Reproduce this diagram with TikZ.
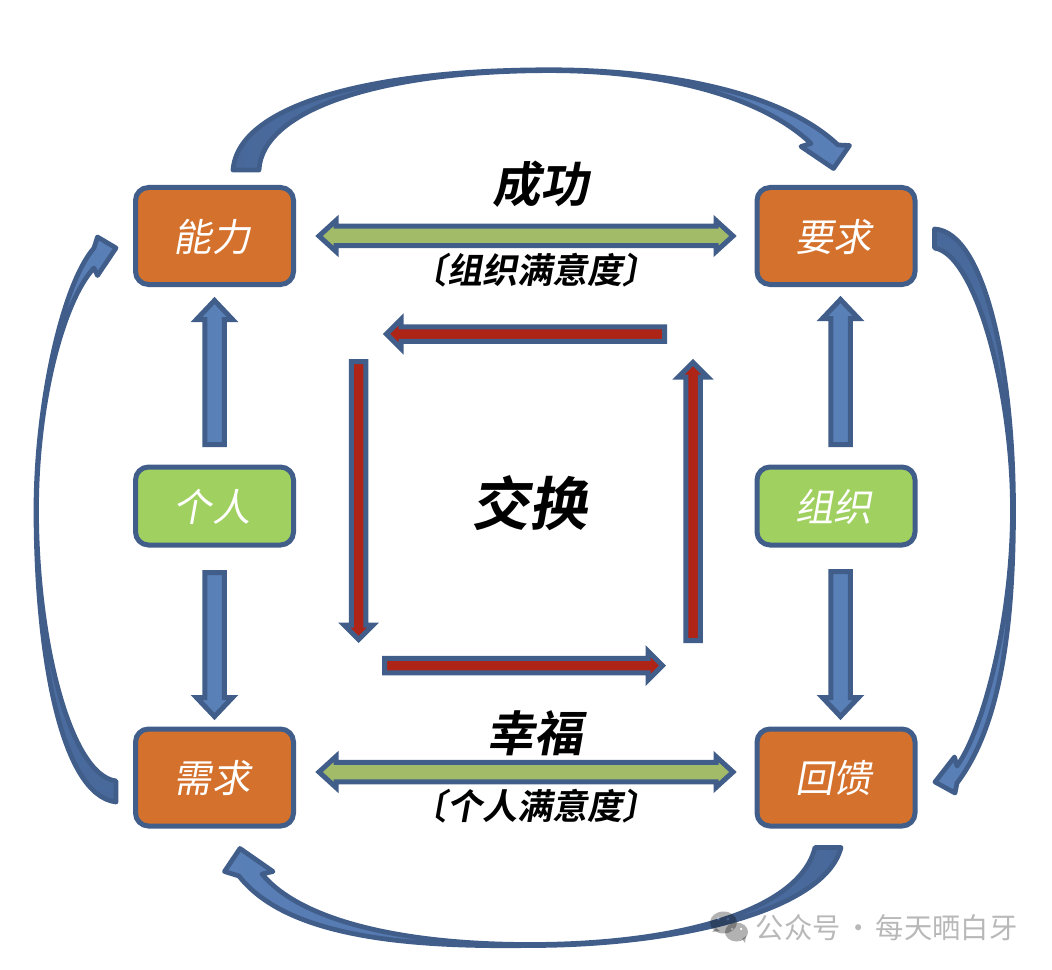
\documentclass[tikz,border=0pt]{standalone}
\usepackage{fontspec}
\usetikzlibrary{calc}
\newfontfamily\cjkup[WordSpace=0.55]{Noto Sans CJK SC}
\newfontfamily\cjkit[FakeSlant=0.18]{Noto Sans CJK SC}
\newfontfamily\cjkbf[FakeSlant=0.18]{Noto Sans CJK SC Bold}
\definecolor{edgeblue}{HTML}{415E8B}
\definecolor{fillblue}{HTML}{5A80B8}
\definecolor{tailblue}{HTML}{48689A}
\definecolor{boxorange}{HTML}{D4722D}
\definecolor{boxgreen}{HTML}{A0D060}
\definecolor{barblue}{HTML}{5A80B8}
\definecolor{bargreen}{HTML}{A2BB68}
\definecolor{barred}{HTML}{AE2417}
\definecolor{markgray}{HTML}{B8B8B8}
\tikzset{
  boxnode/.style={draw=edgeblue,line width=1mm,rounded corners=2.6mm,inner sep=0pt,
    minimum width=31.6mm,text=white,text height=7mm,text depth=0.86mm,
    execute at begin node={\hspace{-1mm}},font=\cjkit\fontsize{21.8}{24}\selectfont},
  onearrow/.style n args={3}{draw=edgeblue,line width=1mm,miter limit=10,
    to path={($(\tikztostart)!#1!90:(\tikztotarget)$)
      -- ($(\tikztotarget)!#3!(\tikztostart)!#1!90:(\tikztotarget)$)
      -- ($(\tikztotarget)!#3!(\tikztostart)!#2!90:(\tikztotarget)$)
      -- (\tikztotarget)
      -- ($(\tikztotarget)!#3!(\tikztostart)!#2!-90:(\tikztotarget)$)
      -- ($(\tikztotarget)!#3!(\tikztostart)!#1!-90:(\tikztotarget)$)
      -- ($(\tikztostart)!#1!-90:(\tikztotarget)$) -- cycle}},
  twoarrow/.style n args={3}{draw=edgeblue,line width=1mm,miter limit=10,
    to path={(\tikztostart)
      -- ($(\tikztostart)!#3!(\tikztotarget)!#2!90:(\tikztotarget)$)
      -- ($(\tikztostart)!#3!(\tikztotarget)!#1!90:(\tikztotarget)$)
      -- ($(\tikztotarget)!#3!(\tikztostart)!#1!90:(\tikztotarget)$)
      -- ($(\tikztotarget)!#3!(\tikztostart)!#2!90:(\tikztotarget)$)
      -- (\tikztotarget)
      -- ($(\tikztotarget)!#3!(\tikztostart)!#2!-90:(\tikztotarget)$)
      -- ($(\tikztotarget)!#3!(\tikztostart)!#1!-90:(\tikztotarget)$)
      -- ($(\tikztostart)!#3!(\tikztotarget)!#1!-90:(\tikztotarget)$)
      -- ($(\tikztostart)!#3!(\tikztotarget)!#2!-90:(\tikztotarget)$) -- cycle}},
  bluearrow/.style={onearrow={1.95mm}{3.6mm}{3.8mm},fill=barblue},
  redarrow/.style={onearrow={1.45mm}{2.9mm}{2.9mm},fill=barred},
  greenarrow/.style={twoarrow={1.95mm}{3.1mm}{3.4mm},fill=bargreen},
  curvearrow/.style={draw=edgeblue,line width=0.95mm,line join=round},
}
\begin{document}
\begin{tikzpicture}[x=0.2mm,y=-0.2mm]
\useasboundingbox (0,0) rectangle (1052,970);
% boxes
\node[boxnode,fill=boxorange,minimum height=19.4mm] (nengli) at (214.5,236) {能力};
\node[boxnode,fill=boxorange,minimum height=19.4mm] (yaoqiu) at (836,236) {要求};
\node[boxnode,fill=boxgreen,minimum height=15.6mm] (geren) at (214.5,506) {个人};
\node[boxnode,fill=boxgreen,minimum height=15.6mm] (zuzhi) at (836,506) {组织};
\node[boxnode,fill=boxorange,minimum height=19.4mm] (xuqiu) at (214.5,777.5) {需求};
\node[boxnode,fill=boxorange,minimum height=19.4mm] (huikui) at (836,777.5) {回馈};
% labels
\node[font=\cjkbf\fontsize{27.5}{30}\selectfont] (chenggong) at (540.5,184) {成功};
\node[font=\cjkbf\fontsize{20}{22}\selectfont] (zuzhisat) at (535,270) {〔组织满意度〕};
\node[font=\cjkbf\fontsize{27.5}{30}\selectfont] (xingfu) at (534.5,733) {幸福};
\node[font=\cjkbf\fontsize{20}{22}\selectfont] (gerensat) at (535,806) {〔个人满意度〕};
\node[font=\cjkbf\fontsize{33}{36}\selectfont] (jiaohuan) at (529.5,503) {交换};
% straight arrows
\draw[bluearrow] ([yshift=4mm]geren.north) to ([yshift=-2.7mm]nengli.south);
\draw[bluearrow] ([yshift=-5mm]geren.south) to ([yshift=2mm]xuqiu.north);
\draw[bluearrow] ([xshift=0.9mm,yshift=4mm]zuzhi.north) to ([xshift=0.9mm,yshift=-2.5mm]yaoqiu.south);
\draw[bluearrow] ([xshift=0.9mm,yshift=-4.8mm]zuzhi.south) to ([xshift=0.9mm,yshift=2mm]huikui.north);
\draw[greenarrow] ([xshift=4.6mm]nengli.east) to ([xshift=-4.3mm]yaoqiu.west);
\draw[greenarrow] ([xshift=4.6mm,yshift=1.1mm]xuqiu.east) to ([xshift=-4.3mm,yshift=1.1mm]huikui.west);
% exchange loop
\coordinate (loopa) at (664.7,334);
\coordinate (loopb) at (386.5,334);
\coordinate (loopc) at (358.7,361.5);
\coordinate (loopd) at (358.7,639.5);
\coordinate (loope) at (384.5,665.7);
\coordinate (loopf) at (662.5,665.7);
\coordinate (loopg) at (693,640.5);
\coordinate (looph) at (693,362.5);
\draw[redarrow] (loopa) to (loopb);
\draw[redarrow] (loopc) to (loopd);
\draw[redarrow] (loope) to (loopf);
\draw[redarrow] (loopg) to (looph);
% curved arrows
\coordinate (toptaila) at ($(nengli.north)+(18.5,-15)$);
\coordinate (toptailb) at ($(nengli.north)+(44.5,-15)$);
\coordinate (toptip) at ($(yaoqiu.north)+(-2.5,-16.5)$);
\draw[curvearrow,left color=tailblue,middle color=tailblue,right color=fillblue]
  (toptaila) .. controls (238,105) and (370,69.8) .. (550,69.8)
  .. controls (660,69.8) and (780,90) .. (838,145)
  -- (849.5,145.5) -- (toptip) -- (801,146.5) -- (811,143.5)
  .. controls (760,95) and (660,70.6) .. (550,70.6)
  .. controls (380,70.6) and (262,110) .. (toptailb) -- cycle;
\coordinate (righttaila) at ($(yaoqiu.east)+(17,-7)$);
\coordinate (righttailb) at ($(yaoqiu.east)+(17,12)$);
\coordinate (righttip) at ($(huikui.east)+(17.5,4.5)$);
\draw[curvearrow,top color=tailblue,middle color=tailblue,bottom color=fillblue]
  (righttaila) .. controls (985,232) and (1013.5,370) .. (1013.5,510)
  .. controls (1013.5,640) and (997,730) .. (957,783)
  -- (955,793) -- (righttip) -- (954.5,757) -- (957,766)
  .. controls (983,730) and (1012.5,620) .. (1012.5,510)
  .. controls (1012.5,390) and (975,254) .. (righttailb) -- cycle;
\coordinate (bottomtaila) at ($(huikui.south)+(5,19)$);
\coordinate (bottomtailb) at ($(huikui.south)+(-21,19)$);
\coordinate (bottomtip) at ($(xuqiu.south)+(25.5,20)$);
\draw[curvearrow,right color=tailblue,middle color=tailblue,left color=fillblue]
  (bottomtaila) .. controls (825,910) and (680,945.5) .. (530,945.5)
  .. controls (400,947.5) and (285,935) .. (239,876)
  -- (224.5,871.5) -- (bottomtip) -- (273,871.5) -- (262,874)
  .. controls (300,920) and (400,944.5) .. (530,944.5)
  .. controls (680,944.5) and (800,910) .. (bottomtailb) -- cycle;
\coordinate (lefttaila) at ($(xuqiu.west)+(-17,24.5)$);
\coordinate (lefttailb) at ($(xuqiu.west)+(-17,3.5)$);
\coordinate (lefttip) at ($(nengli.west)+(-17,12)$);
\draw[curvearrow,bottom color=tailblue,middle color=tailblue,top color=fillblue]
  (lefttaila) .. controls (60,795) and (36,650) .. (36,510)
  .. controls (36,405) and (62,285) .. (94,248)
  -- (97.5,237) -- (lefttip) -- (97.5,275.5) -- (94,268)
  .. controls (64,300) and (36.5,400) .. (36.5,510)
  .. controls (36.5,640) and (70,775) .. (lefttailb) -- cycle;
% watermark
\fill[black,opacity=0.3,even odd rule] (723.5,922.5) ellipse [x radius=13.5,y radius=11]
  (718.5,919) circle (1.8) (728,919) circle (1.8);
\fill[black,opacity=0.3] (712,932) -- (716,928) -- (720,931) -- cycle;
\fill[black,opacity=0.3,even odd rule] (736.5,932) ellipse [x radius=11.5,y radius=9.5]
  (732,929) circle (1.5) (741,929) circle (1.5);
\fill[black,opacity=0.3] (742,939) -- (745,943) -- (746,936) -- cycle;
\node[anchor=west,inner sep=0pt,text=markgray,font=\cjkup\fontsize{16.1}{18}\selectfont] (mark) at (755.5,928) {公众号 · 每天晒白牙};
\end{tikzpicture}
\end{document}
